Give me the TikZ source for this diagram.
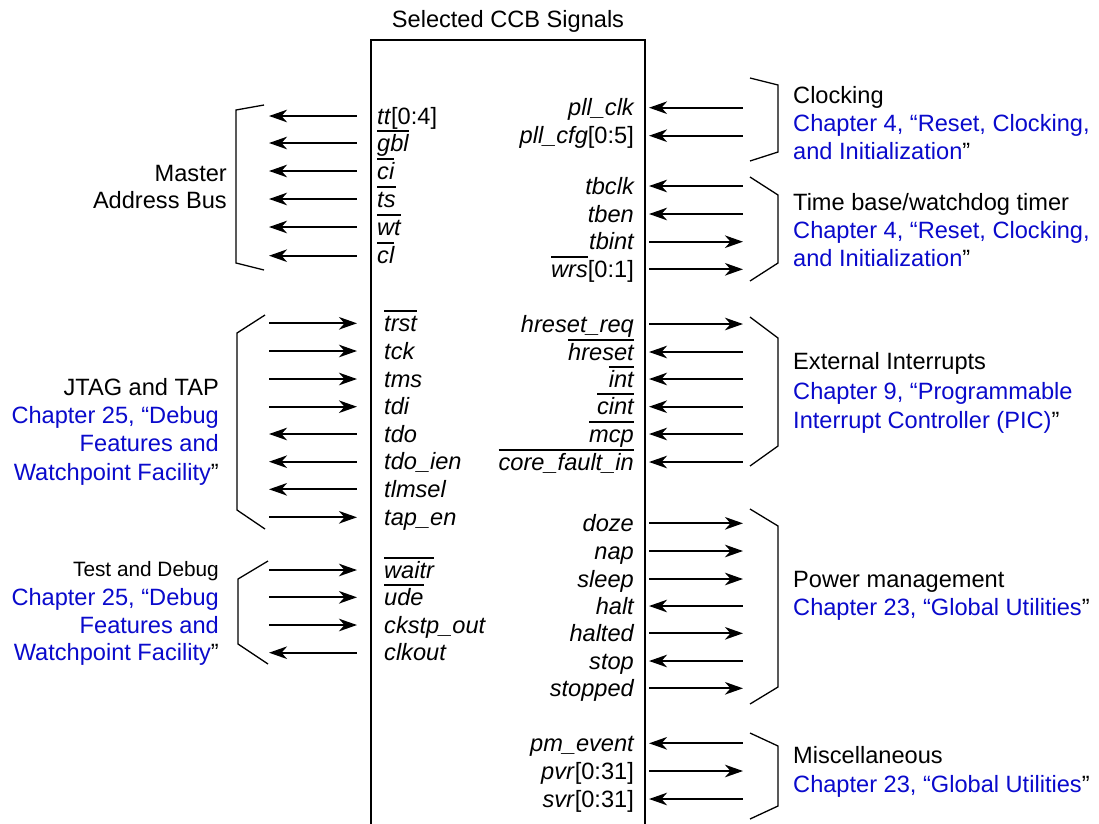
\documentclass[tikz,border=0pt]{standalone}
\usepackage{fontspec}
\setmainfont{Liberation Sans}
\usetikzlibrary{arrows.meta}
\definecolor{refblue}{RGB}{10,10,204}
\newcommand{\ovl}[1]{\setbox0=\hbox{#1}\rlap{\rule[19.5pt]{\wd0}{1.9pt}}\box0}
\begin{document}
\begin{tikzpicture}[x=1pt,y=-1pt,
  every node/.style={inner sep=0pt, font=\fontsize{23.6}{28}\selectfont},
  lab/.style={font=\fontsize{23.6}{28}\selectfont\itshape},
  sig/.style={line width=2.3pt, >={Stealth[length=18pt,width=12.5pt,inset=5.5pt]}},
  brk/.style={line width=1.3pt, line join=miter},
  blu/.style={text=refblue},
  boxline/.style={line width=2.3pt}]
\fill[white] (0,0) rectangle (1099,823);
\useasboundingbox (0,0) rectangle (1099,823);

% title and box
\node[anchor=base] (title) at (508,27) {Selected CCB Signals};
\coordinate (bxa) at (371,830);
\coordinate (bxb) at (371,40);
\coordinate (bxc) at (645,40);
\coordinate (bxd) at (645,830);
\draw[boxline] (bxa) -- (bxb) -- (bxc) -- (bxd);

% ---------- left side ----------
% Master address bus
\foreach \y/\lab/\d [count=\i] in {
  116/{tt\textup{[0:4]}}/<-, 143/{\ovl{gbl}}/<-, 171/{\ovl{ci}}/<-,
  199/{\ovl{ts}}/<-, 227/{\ovl{wt}}/<-, 255.7/{\ovl{cl}}/<-}{
  \node[lab, anchor=base west] (mal\i) at (377,\y+8) {\lab};
  \coordinate (maa\i) at (357,\y);
  \coordinate (mab\i) at (269,\y);
  \draw[sig,\d] (mab\i) -- (maa\i);
}
\draw[brk] (264,105) -- (236,110) -- (236,263) -- (264,270);
\node[anchor=base east] (mat1) at (227,181.7) {Master};
\node[anchor=base east] (mat2) at (227,208.3) {Address Bus};

% JTAG and TAP
\foreach \y/\lab/\d [count=\i] in {
  323.3/{\ovl{trst}}/->, 351/{tck}/->, 379/{tms}/->, 406.7/{tdi}/->,
  434/{tdo}/<-, 461.7/{tdo\_ien}/<-, 489.3/{tlmsel}/<-, 517.3/{tap\_en}/->}{
  \node[lab, anchor=base west] (jtl\i) at (384,\y+8) {\lab};
  \coordinate (jta\i) at (357,\y);
  \coordinate (jtb\i) at (269,\y);
  \draw[sig,\d] (jtb\i) -- (jta\i);
}
\draw[brk] (265,315) -- (237,333) -- (237,510) -- (265,529);
\node[anchor=base east] (jtt1) at (219,395) {JTAG and TAP};
\node[anchor=base east, blu] (jtt2) at (219,423.3) {Chapter 25, “Debug};
\node[anchor=base east, blu] (jtt3) at (219,451.7) {Features and};
\node[anchor=base east] (jtt4) at (219,480) {\textcolor{refblue}{Watchpoint Facility}”};

% Test and Debug
\foreach \y/\lab/\d [count=\i] in {
  570/{\ovl{waitr}}/->, 597.3/{\ovl{ude}}/->, 625/{ckstp\_out}/->, 652.7/{clkout}/<-}{
  \node[lab, anchor=base west] (tdl\i) at (384,\y+8) {\lab};
  \coordinate (tda\i) at (357,\y);
  \coordinate (tdb\i) at (269,\y);
  \draw[sig,\d] (tdb\i) -- (tda\i);
}
\draw[brk] (268,561) -- (238,579) -- (238,644) -- (268,664);
\node[anchor=base east, font=\fontsize{20.8}{25}\selectfont] (tdt1) at (219,576.7) {Test and Debug};
\node[anchor=base east, blu] (tdt2) at (219,605) {Chapter 25, “Debug};
\node[anchor=base east, blu] (tdt3) at (219,633.3) {Features and};
\node[anchor=base east] (tdt4) at (219,660.7) {\textcolor{refblue}{Watchpoint Facility}”};

% ---------- right side ----------
% Clocking
\foreach \y/\lab/\d [count=\i] in {
  107.7/{pll\_clk}/<-, 135.7/{pll\_cfg\textup{[0:5]}}/<-}{
  \node[lab, anchor=base east] (ckl\i) at (634,\y+8) {\lab};
  \coordinate (cka\i) at (649,\y);
  \coordinate (ckb\i) at (743,\y);
  \draw[sig,\d] (cka\i) -- (ckb\i);
}
\draw[brk] (750,78) -- (778,85) -- (778,152) -- (750,161);
\node[anchor=base west] (ckt1) at (793,103) {Clocking};
\node[anchor=base west, blu] (ckt2) at (793,131.7) {Chapter 4, “Reset, Clocking,};
\node[anchor=base west] (ckt3) at (793,159.3) {\textcolor{refblue}{and Initialization}”};

% Time base
\foreach \y/\lab/\d [count=\i] in {
  186/{tbclk}/<-, 214/{tben}/<-, 241.7/{tbint}/->, 269.3/{\ovl{wrs}\textup{[0:1]}}/->}{
  \node[lab, anchor=base east] (tbl\i) at (634,\y+8) {\lab};
  \coordinate (tba\i) at (649,\y);
  \coordinate (tbb\i) at (743,\y);
  \draw[sig,\d] (tba\i) -- (tbb\i);
}
\draw[brk] (750,177) -- (778,195) -- (778,263) -- (750,281);
\node[anchor=base west] (tbt1) at (793,210) {Time base/watchdog timer};
\node[anchor=base west, blu] (tbt2) at (793,238.3) {Chapter 4, “Reset, Clocking,};
\node[anchor=base west] (tbt3) at (793,266.7) {\textcolor{refblue}{and Initialization}”};

% External interrupts
\foreach \y/\lab/\d [count=\i] in {
  324/{hreset\_req}/->, 352/{\ovl{hreset}}/<-, 379/{\ovl{int}}/<-,
  406.7/{\ovl{cint}}/<-, 434/{\ovl{mcp}}/<-, 462/{\ovl{core\_fault\_in}}/<-}{
  \node[lab, anchor=base east] (eil\i) at (634,\y+8) {\lab};
  \coordinate (eia\i) at (649,\y);
  \coordinate (eib\i) at (743,\y);
  \draw[sig,\d] (eia\i) -- (eib\i);
}
\draw[brk] (750,317) -- (778,338) -- (778,446) -- (750,466);
\node[anchor=base west] (eit1) at (793,369) {External Interrupts};
\node[anchor=base west, blu] (eit2) at (793,399) {Chapter 9, “Programmable};
\node[anchor=base west] (eit3) at (793,428.5) {\textcolor{refblue}{Interrupt Controller (PIC)}”};

% Power management
\foreach \y/\lab/\d [count=\i] in {
  523.3/{doze}/->, 551/{nap}/->, 579/{sleep}/->, 606/{halt}/<-,
  633.3/{halted}/->, 661/{stop}/<-, 688.3/{stopped}/->}{
  \node[lab, anchor=base east] (pml\i) at (634,\y+8) {\lab};
  \coordinate (pma\i) at (649,\y);
  \coordinate (pmb\i) at (743,\y);
  \draw[sig,\d] (pma\i) -- (pmb\i);
}
\draw[brk] (750,509) -- (778,526) -- (778,687) -- (750,704);
\node[anchor=base west] (pmt1) at (793,587) {Power management};
\node[anchor=base west] (pmt2) at (793,615) {\textcolor{refblue}{Chapter 23, “Global Utilities}”};

% Miscellaneous
\foreach \y/\lab/\d [count=\i] in {
  743.3/{pm\_event}/<-, 771/{pvr\textup{[0:31]}}/->, 799/{svr\textup{[0:31]}}/<-}{
  \node[lab, anchor=base east] (msl\i) at (634,\y+8) {\lab};
  \coordinate (msa\i) at (649,\y);
  \coordinate (msb\i) at (743,\y);
  \draw[sig,\d] (msa\i) -- (msb\i);
}
\draw[brk] (750,733) -- (778,746) -- (778,806) -- (750,819);
\node[anchor=base west] (mst1) at (793,763) {Miscellaneous};
\node[anchor=base west] (mst2) at (793,792) {\textcolor{refblue}{Chapter 23, “Global Utilities}”};
\end{tikzpicture}
\end{document}
